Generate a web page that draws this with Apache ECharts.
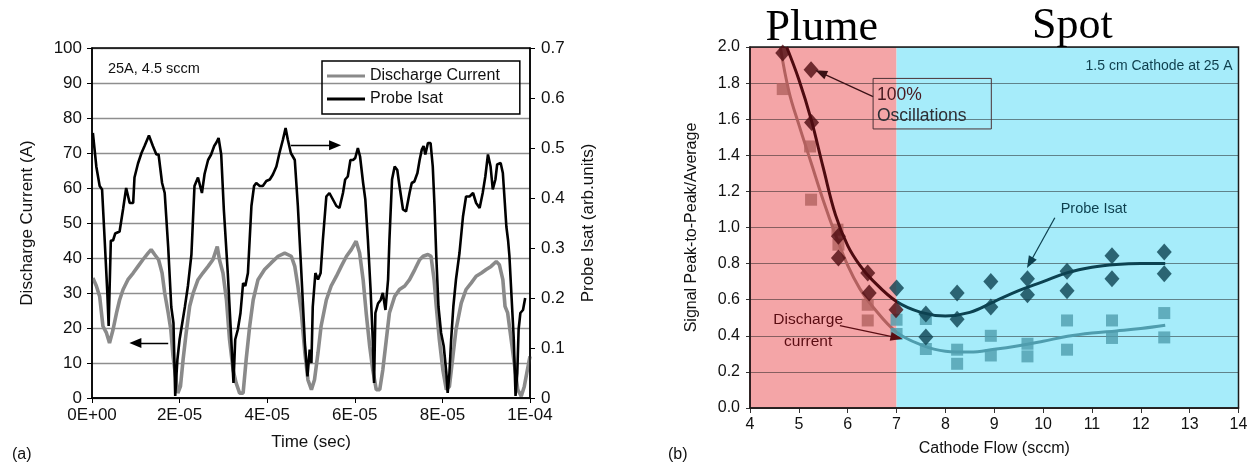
<!DOCTYPE html>
<html><head><meta charset="utf-8">
<script src="https://cdn.jsdelivr.net/npm/echarts@6/dist/echarts.min.js"></script>
<style>html,body{margin:0;padding:0;background:#fff}#c{width:1260px;height:467px}</style>
</head><body><div id="c"></div>
<script>
// ---------- Panel (a): time traces (time in microseconds) ----------
const timeTickLabels = ['0E+00','2E-05','4E-05','6E-05','8E-05','1E-04'];
const dischargeT = [0.2,1,1.75,2.5,3.3,4,4.8,5.6,6.3,7.1,8.2,9.4,10.5,11.6,12.8,13.5,14.3,15.2,16,16.6,17.4,18,18.5,19,19.6,20.2,20.8,21.5,22.3,23.1,24.2,25.3,26.5,27.6,28.6,29.1,29.9,30.7,31.4,32.2,32.9,33.7,34.5,35.2,36,36.8,37.9,39.4,40.9,42.5,44,45.5,46.3,47,47.8,48.6,49.3,50.1,50.8,51.6,52.3,53.5,54.6,55.8,56.9,58.1,59.2,60.3,61.1,61.9,62.6,63.4,64.1,64.9,65.7,66.4,67.2,67.9,69.1,70.2,71.4,72.5,73.7,74.8,75.6,76.7,77.4,78.1,78.6,79.3,80.1,80.9,81.6,82.4,83.1,84.3,85.4,86.6,87.7,88.9,90,91.1,92.3,93,93.8,94.3,94.9,95.7,96.5,97.2,98,98.7,99.7,100];
const dischargeA = [34.3,32,29,20.5,18.6,15.7,19.5,24.3,28,31,33.8,35.7,37.6,39.5,41.4,42.4,41,39.5,35.7,30,24.3,19.5,11.9,7.1,1.4,3.3,11,18.6,26.2,30,33.8,35.7,37.6,39.5,43.3,39.5,35.7,28,16.7,8.1,4.3,1.4,1.4,11,20.5,28,33.8,36.7,38.6,40.5,41.4,40.5,37.6,32,24.3,12.9,5.2,2.4,5.2,12.9,20.5,28,32,34.8,37.6,40.5,42.4,44.8,41.4,33.8,24.3,14.8,8.1,2.4,2.4,8.1,16.7,24.3,29,31,32,33.8,36.7,39.5,40.5,41,40.5,33.8,26.2,16.7,8.1,2.4,3.3,11.9,19.5,27.1,31,32.9,34.8,35.7,36.7,37.6,39,38.1,33.8,26.2,24.3,16.7,9,2.4,0.5,3.3,10,11.9];
const isatT = [0.2,1,1.75,2.3,2.9,3.5,3.8,4.3,4.8,5.3,6.3,7.1,7.8,8.6,9.4,9.7,10.5,11.3,12,13,13.9,14.7,15.2,16,16.6,17.4,18.1,18.6,19,19.5,20,21.2,21.9,22.7,23.4,24.2,25.1,25.7,26.5,27.2,27.9,28.4,28.9,29.5,30.1,31,31.8,32.3,32.7,33.3,33.9,34.5,35,35.6,36.4,37,37.5,38.3,39,39.8,40.6,41.3,42.1,42.8,43.6,44.2,44.7,45.4,46.3,47,47.8,48.6,49.2,49.7,50.1,50.4,51,51.6,52.2,52.7,53.5,54.2,55,55.8,56.5,57.3,57.8,58.4,59,59.6,60.1,60.7,61.2,61.9,62.4,63,63.6,64.1,64.4,64.7,65.3,65.9,66.4,67,67.6,67.9,68.5,69.1,69.7,70.2,71,71.7,72.5,73,73.6,74.3,74.8,75.3,75.7,76.1,76.7,77.3,77.8,78.2,78.6,79.1,79.7,80.3,80.9,81.2,81.6,82,82.5,83.1,83.9,84.7,85.4,86.2,87,87.7,88.5,89.2,89.8,90.4,91,91.5,92.1,92.5,93.3,93.8,94.2,94.6,95,95.3,95.7,96.3,96.7,97.1,97.4,97.8,98.4,98.9];
const isatV = [0.530,0.462,0.424,0.417,0.315,0.210,0.144,0.315,0.315,0.329,0.333,0.378,0.420,0.390,0.390,0.441,0.469,0.490,0.504,0.525,0.504,0.487,0.487,0.430,0.410,0.301,0.182,0.150,0.004,0.077,0.117,0.182,0.224,0.287,0.424,0.441,0.410,0.448,0.476,0.487,0.504,0.511,0.520,0.487,0.377,0.250,0.117,0.030,0.117,0.137,0.170,0.230,0.224,0.250,0.384,0.424,0.430,0.424,0.424,0.434,0.437,0.447,0.463,0.490,0.517,0.540,0.517,0.490,0.476,0.384,0.250,0.110,0.043,0.097,0.070,0.182,0.250,0.237,0.250,0.315,0.403,0.410,0.397,0.384,0.380,0.410,0.437,0.443,0.476,0.476,0.480,0.500,0.483,0.430,0.397,0.315,0.217,0.117,0.030,0.170,0.189,0.196,0.210,0.176,0.237,0.315,0.437,0.463,0.456,0.424,0.377,0.373,0.410,0.430,0.433,0.450,0.476,0.497,0.504,0.487,0.510,0.510,0.463,0.384,0.284,0.183,0.130,0.104,0.050,0.010,0.050,0.117,0.183,0.237,0.290,0.363,0.403,0.403,0.410,0.390,0.380,0.410,0.443,0.487,0.463,0.417,0.437,0.467,0.470,0.450,0.397,0.343,0.315,0.284,0.217,0.117,0.004,0.050,0.137,0.170,0.176,0.200];

// ---------- Panel (b): peak-to-peak vs cathode flow ----------
const probeFlow  = [4.67,5.25,5.26,5.81,5.81,6.41,6.44,7.0,6.99,7.6,7.6,8.24,8.24,8.93,8.93,9.68,9.68,10.49,10.49,11.41,11.41,12.48,12.48];
const probeRatio = [1.967,1.874,1.582,0.951,0.831,0.748,0.637,0.665,0.545,0.521,0.393,0.637,0.492,0.701,0.560,0.716,0.628,0.757,0.650,0.844,0.716,0.864,0.744];
const dischFlow  = [4.67,5.23,5.25,5.79,5.81,6.41,6.41,7.0,7.0,7.6,7.6,8.24,8.24,8.93,8.93,9.68,9.68,10.49,10.49,11.41,11.41,12.48,12.48];
const dischRatio = [1.767,1.449,1.154,0.988,0.905,0.572,0.485,0.489,0.41,0.493,0.327,0.323,0.245,0.400,0.291,0.356,0.286,0.485,0.323,0.485,0.388,0.526,0.391];
const probeFitFlow = [4.75,5.0,5.25,5.5,5.75,6.0,6.25,6.5,7.0,7.5,8.0,8.5,9.0,9.5,10.0,10.5,11.0,11.5,12.0,12.5];
const probeFit     = [2.0,1.82,1.60,1.33,1.07,0.90,0.79,0.71,0.59,0.53,0.51,0.53,0.59,0.65,0.70,0.75,0.78,0.795,0.80,0.80];
const dischFitFlow = [4.62,4.8,5.0,5.25,5.5,5.75,6.0,6.25,6.5,7.0,7.5,8.0,8.5,9.0,9.5,10.0,10.5,11.0,11.5,12.0,12.5];
const dischFit     = [2.0,1.75,1.57,1.36,1.15,0.96,0.79,0.66,0.565,0.42,0.35,0.315,0.31,0.325,0.345,0.37,0.397,0.415,0.427,0.44,0.458];
const regionSplit = 7; // plume | spot boundary (sccm)

const zip = (a, b) => a.map((v, i) => [v, b[i]]);
const FONT = '"Liberation Sans", Arial, Helvetica, sans-serif';
const PINK = '#f4a5a7', CYAN = '#a6ecfa';
const DARK_P = '#4e0b10', DARK_S = '#0c4251', LIGHT_P = '#b2615f', LIGHT_S = '#4f9dae';

const chart = echarts.init(document.getElementById('c'), null, {renderer: 'canvas'});
const axisText = {fontFamily: FONT, fontSize: 17, color: '#111'};

chart.setOption({
  animation: false,
  textStyle: {fontFamily: FONT},
  grid: [
    {left: 92, top: 48, width: 438, height: 350, show: true, borderColor: '#000', borderWidth: 1.5, z: 4, backgroundColor: 'transparent'},
    {left: 750, top: 47, width: 488.5, height: 361, show: true, borderColor: '#1a1a1a', borderWidth: 1.5, z: 4, backgroundColor: 'transparent'}
  ],
  legend: {
    data: ['Discharge Current', 'Probe Isat'],
    orient: 'vertical', left: 322, top: 61,
    icon: 'rect', itemWidth: 38, itemHeight: 3, itemGap: 7,
    padding: [7, 20, 7, 5],
    borderColor: '#000', borderWidth: 1.5,
    textStyle: {fontFamily: FONT, fontSize: 16, color: '#111'}
  },
  xAxis: [
    {gridIndex: 0, type: 'value', min: 0, max: 100, interval: 20,
     name: 'Time (sec)', nameLocation: 'middle', nameGap: 36, nameTextStyle: axisText,
     axisLine: {lineStyle: {color: '#000', width: 1.5}},
     axisTick: {length: 5, lineStyle: {color: '#000'}},
     axisLabel: Object.assign({margin: 9, formatter: v => timeTickLabels[Math.round(v / 20)]}, axisText),
     splitLine: {show: false}},
    {gridIndex: 1, type: 'value', min: 4, max: 14, interval: 1, z: 2,
     name: 'Cathode Flow (sccm)', nameLocation: 'middle', nameGap: 33, nameTextStyle: Object.assign({}, axisText, {fontSize: 16}),
     axisLine: {lineStyle: {color: '#3a2020', width: 1.5}},
     axisTick: {length: 5, lineStyle: {color: '#333'}},
     axisLabel: Object.assign({}, axisText, {fontSize: 16, margin: 9}),
     splitLine: {show: false}}
  ],
  yAxis: [
    {gridIndex: 0, type: 'value', min: 0, max: 100, interval: 10, position: 'left',
     name: 'Discharge Current (A)', nameLocation: 'middle', nameGap: 56, nameTextStyle: axisText,
     axisLine: {show: true, lineStyle: {color: '#000', width: 1.5}},
     axisTick: {show: true, length: 5, lineStyle: {color: '#000'}},
     axisLabel: Object.assign({margin: 10}, axisText),
     splitLine: {show: true, lineStyle: {color: '#8e8e8e', width: 1.3}}},
    {gridIndex: 0, type: 'value', min: 0, max: 0.7, interval: 0.1, position: 'right',
     name: 'Probe Isat (arb.units)', nameLocation: 'middle', nameGap: 50, nameRotate: 90, nameTextStyle: axisText,
     axisLine: {show: true, lineStyle: {color: '#000', width: 1.5}},
     axisTick: {show: true, length: 5, lineStyle: {color: '#000'}},
     axisLabel: Object.assign({margin: 11, formatter: v => v === 0 ? '0' : v.toFixed(1)}, axisText),
     splitLine: {show: false}},
    {gridIndex: 1, type: 'value', min: 0, max: 2.0, interval: 0.2, z: 2,
     name: 'Signal Peak-to-Peak/Average', nameLocation: 'middle', nameGap: 50, nameTextStyle: Object.assign({}, axisText, {fontSize: 16}),
     axisLine: {show: true, lineStyle: {color: '#4a0a0e', width: 1.5}},
     axisTick: {show: true, length: 4, lineStyle: {color: '#333'}},
     axisLabel: Object.assign({}, axisText, {fontSize: 16, margin: 10, formatter: v => v.toFixed(1)}),
     splitLine: {show: true, lineStyle: {color: 'rgba(25,25,25,0.5)', width: 1.2}}}
  ],
  series: [
    {name: 'Discharge Current', type: 'line', xAxisIndex: 0, yAxisIndex: 0, z: 3,
     data: zip(dischargeT, dischargeA), symbol: 'none', smooth: false,
     color: '#8a8a8a', lineStyle: {color: '#8a8a8a', width: 3.6}},
    {name: 'Probe Isat', type: 'line', xAxisIndex: 0, yAxisIndex: 1, z: 3,
     data: zip(isatT, isatV), symbol: 'none', smooth: false,
     color: '#000', lineStyle: {color: '#000', width: 2.6}},
    {name: 'annA', type: 'line', xAxisIndex: 0, yAxisIndex: 0, z: 5, data: [], silent: true,
     markLine: {silent: true, symbol: ['none', 'triangle'], symbolSize: [10, 12], label: {show: false},
       lineStyle: {color: '#000', width: 1.3, type: 'solid'},
       data: [
         [{coord: [17.4, 15.7]}, {coord: [9.9, 15.7]}],
         [{coord: [45.4, 72.2]}, {coord: [55.5, 72.2]}]
       ]}},
    {name: 'bgB', type: 'line', xAxisIndex: 1, yAxisIndex: 2, z: 1, data: [], silent: true,
     markArea: {silent: true, data: [
       [{xAxis: 4, itemStyle: {color: PINK, opacity: 1}}, {xAxis: regionSplit}],
       [{xAxis: regionSplit, itemStyle: {color: CYAN, opacity: 1}}, {xAxis: 14}]
     ]}},
    {name: 'Discharge (points)', type: 'scatter', xAxisIndex: 1, yAxisIndex: 2, z: 3,
     data: zip(dischFlow, dischRatio), symbol: 'rect', symbolSize: 12,
     itemStyle: {color: p => p.value[0] < regionSplit ? LIGHT_P : LIGHT_S}},
    {name: 'Probe (points)', type: 'scatter', xAxisIndex: 1, yAxisIndex: 2, z: 4,
     data: zip(probeFlow, probeRatio), symbol: 'diamond', symbolSize: [15, 17],
     itemStyle: {color: p => p.value[0] < regionSplit ? DARK_P : DARK_S}},
    {name: 'Probe fit', type: 'line', xAxisIndex: 1, yAxisIndex: 2, z: 4,
     data: zip(probeFitFlow, probeFit), symbol: 'none', smooth: 0.4, lineStyle: {width: 3, color: DARK_S}},
    {name: 'Discharge fit', type: 'line', xAxisIndex: 1, yAxisIndex: 2, z: 3,
     data: zip(dischFitFlow, dischFit), symbol: 'none', smooth: 0.4, lineStyle: {width: 3, color: LIGHT_S}},
    {name: 'annB', type: 'line', xAxisIndex: 1, yAxisIndex: 2, z: 6, data: [], silent: true,
     markLine: {silent: true, symbol: ['none', 'triangle'], symbolSize: [9, 12], label: {show: false},
       lineStyle: {width: 1.2, type: 'solid'},
       data: [
         [{coord: [6.52, 1.725], lineStyle: {color: '#3a1015'}}, {coord: [5.45, 1.858]}],
         [{coord: [10.24, 1.054], lineStyle: {color: '#0c3f4e'}}, {coord: [9.73, 0.805]}],
         [{coord: [5.84, 0.456], lineStyle: {color: '#5a0c12'}}, {coord: [7.0, 0.39]}]
       ]}}
  ]
});

// ---------- second pass: colours split at the boundary, text annotations ----------
const pa = pt => chart.convertToPixel({seriesIndex: 0}, pt);
const pb = pt => chart.convertToPixel({seriesIndex: 3}, pt);
const x4 = pb([4, 0])[0], x14 = pb([14, 0])[0];
const off = (regionSplit - 4) / 10;
const splitGrad = (c1, c2) => new echarts.graphic.LinearGradient(x4, 0, x14, 0, [
  {offset: 0, color: c1}, {offset: off, color: c1}, {offset: off, color: c2}, {offset: 1, color: c2}], true);

const t = (pos, text, style) => ({type: 'text', x: pos[0], y: pos[1], z: 10, silent: true,
  style: Object.assign({text: text, fontFamily: FONT, fontSize: 15, fill: '#111'}, style)});

const a1 = pa([3.65, 94]);
const plume = pb([5.47, 2.0]);
const spot = pb([10.6, 2.0]);
const cath = pb([13.88, 1.896]);
const boxTL = pb([6.52, 1.826]);
const boxBR = pb([8.94, 1.546]);
const pct = pb([6.6, 1.735]);
const osc = pb([6.6, 1.615]);
const probeLbl = pb([10.36, 1.10]);
const dis1 = pb([5.19, 0.489]);
const dis2 = pb([5.19, 0.368]);
const SERIF = '"Liberation Serif", "Times New Roman", serif';

chart.setOption({
  series: [{}, {}, {}, {}, {}, {},
    {lineStyle: {color: splitGrad(DARK_P, DARK_S)}},
    {lineStyle: {color: splitGrad(LIGHT_P, LIGHT_S)}},
    {}],
  graphic: [
    t(a1, '25A, 4.5 sccm', {fontSize: 14.5, textVerticalAlign: 'middle'}),
    t([12, 455], '(a)', {fontSize: 16, textVerticalAlign: 'middle'}),
    t([668, 455], '(b)', {fontSize: 16, textVerticalAlign: 'middle'}),
    t([plume[0], plume[1] + 3], 'Plume', {fontFamily: SERIF, fontSize: 44, textAlign: 'center', textVerticalAlign: 'bottom', fill: '#000'}),
    t([spot[0], spot[1] + 1], 'Spot', {fontFamily: SERIF, fontSize: 44, textAlign: 'center', textVerticalAlign: 'bottom', fill: '#000'}),
    t(cath, '1.5 cm Cathode at 25 A', {fontSize: 14, textAlign: 'right', textVerticalAlign: 'middle', fill: '#0e3e4c'}),
    {type: 'rect', z: 10, silent: true, shape: {x: boxTL[0], y: boxTL[1], width: boxBR[0] - boxTL[0], height: boxBR[1] - boxTL[1]},
     style: {fill: 'none', stroke: '#4b3236', lineWidth: 1}},
    t(pct, '100%', {fontSize: 17.5, textVerticalAlign: 'middle', fill: '#4a1a20'}),
    t(osc, 'Oscillations', {fontSize: 17.5, textVerticalAlign: 'middle', fill: '#2e2f35'}),
    t(probeLbl, 'Probe Isat', {fontSize: 14.5, textVerticalAlign: 'middle', fill: '#0c3f4e'}),
    t(dis1, 'Discharge', {fontSize: 15.5, textAlign: 'center', textVerticalAlign: 'middle', fill: '#5a0c12'}),
    t(dis2, 'current', {fontSize: 15.5, textAlign: 'center', textVerticalAlign: 'middle', fill: '#5a0c12'})
  ]
});
</script>
</body></html>
